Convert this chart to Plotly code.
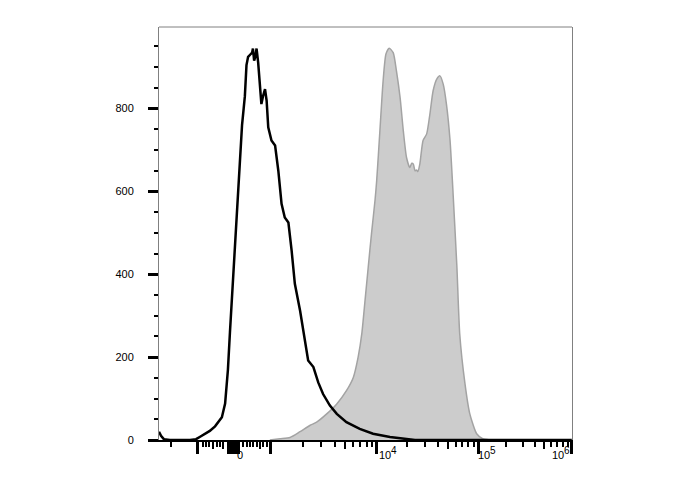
import math
import plotly.graph_objects as go

# ---------------- data (display channel scale 0..1024) ----------------
iso_ch = [0, 5, 12, 27, 77, 92, 102, 114, 126, 139, 149, 156, 164, 171, 176, 181, 188,
          193, 198, 202, 206, 210, 213, 217, 221, 226, 231, 233, 236, 239, 242, 246,
          250, 254, 258, 263, 267, 271, 279, 288, 296, 304, 312, 321, 329, 337, 350,
          362, 370, 383, 395, 407, 424, 441, 465, 498, 531, 573, 605, 635, 1024]
iso_cnt = [20, 10, 2, 0, 0, 2, 8, 14, 22, 33, 45, 55, 88, 170, 260, 340, 470,
           540, 640, 690, 760, 800, 830, 905, 925, 930, 935, 945, 916, 925, 945, 911,
           867, 811, 830, 847, 819, 755, 723, 711, 650, 570, 537, 525, 457, 377, 312,
           240, 192, 176, 139, 111, 83, 63, 43, 27, 15, 7, 3, 0, 0]

stain_ch = [275, 300, 325, 350, 374, 391, 416, 441, 465, 482, 494, 503, 511, 519, 527,
            536, 540, 548, 556, 563, 571, 581, 589, 598, 606, 614, 622, 627, 631, 635,
            639, 642, 647, 655, 664, 672, 680, 689, 697, 705, 713, 722, 730, 739, 746,
            759, 771, 788, 803, 821]
stain_cnt = [0, 3, 6, 20, 35, 43, 63, 87, 119, 151, 200, 256, 336, 417, 497,
             580, 626, 747, 868, 932, 946, 935, 891, 827, 747, 682, 658, 668, 666, 650,
             652, 648, 666, 723, 739, 787, 843, 871, 879, 859, 811, 723, 586, 417, 256,
             136, 63, 15, 3, 0]

# axis tick positions (channels)
decade_pos = {3: 276.9, 4: 540.5, 5: 791.7, 6: 1024.0}
neg_major = [96.7]
zero_block = [173.6, 178.5, 183.5, 188.4, 193.4, 198.4]
zero_pos = 186.0
lin_minor = [29.0, 108.4, 116.5, 124.7, 143.1, 151.3, 209.0, 217.4, 225.6, 233.8,
             242.2, 258.6, 267.0]
lin_medium = [134.6, 159.5, 250.4]

x_base = ["0", "10", "10", "10"]
x_exp = ["", "4", "5", "6"]
y_major = [0, 200, 400, 600, 800]
y_minor = [v for v in range(0, 1000, 50) if v % 200 != 0]

# ---------------- derived ticks ----------------
major_vals = neg_major + zero_block + [decade_pos[k] for k in (3, 4, 5, 6)]
minor_vals = list(lin_minor)
medium_vals = list(lin_medium)
for k in (3, 4, 5):
    a, b = decade_pos[k], decade_pos[k + 1]
    for m in range(2, 10):
        p = a + math.log10(m) * (b - a)
        (medium_vals if m == 5 else minor_vals).append(p)

fig = go.Figure()
fig.add_trace(go.Scatter(x=stain_ch, y=stain_cnt, mode="lines", fill="tozeroy",
                         line=dict(color="#a3a3a3", width=1.5, shape="spline", smoothing=0.6),
                         fillcolor="#cccccc", hoverinfo="skip", showlegend=False))
fig.add_trace(go.Scatter(x=iso_ch, y=iso_cnt, mode="lines",
                         line=dict(color="#000000", width=2.5),
                         hoverinfo="skip", showlegend=False))
fig.add_trace(go.Scatter(x=[0], y=[0], xaxis="x2", mode="markers",
                         marker=dict(opacity=0), hoverinfo="skip", showlegend=False))

XR = [0, 1024.5]
fig.update_layout(
    width=680, height=482,
    margin=dict(l=151, r=116, t=19, b=50),
    paper_bgcolor="white", plot_bgcolor="white",
    font=dict(family="Liberation Sans, Arial, sans-serif", size=11, color="black"),
    xaxis=dict(range=XR, showgrid=False, zeroline=False,
               showline=True, linecolor="black", linewidth=2,
               tickmode="array", tickvals=major_vals, ticks="outside",
               ticklen=12, tickwidth=2.5, tickcolor="black", showticklabels=False,
               minor=dict(tickmode="array", tickvals=minor_vals, ticks="outside",
                          ticklen=5, tickwidth=2, tickcolor="black", showgrid=False)),
    xaxis2=dict(range=XR, overlaying="x", anchor="y", side="bottom",
                showgrid=False, zeroline=False, showline=False,
                tickmode="array", tickvals=medium_vals, ticks="outside",
                ticklen=8, tickwidth=2, tickcolor="black", showticklabels=False),
    yaxis=dict(range=[0, 997], showgrid=False, zeroline=False,
               showline=True, linecolor="#808080", linewidth=1, mirror=True,
               tickmode="array", tickvals=y_major, ticktext=[str(v) for v in y_major],
               ticks="outside", ticklen=10, tickwidth=2.5, tickcolor="black",
               ticklabelstandoff=12,
               minor=dict(tickmode="array", tickvals=y_minor, ticks="outside",
                          ticklen=4, tickwidth=2, tickcolor="black", showgrid=False)),
    shapes=[dict(type="line", xref="paper", yref="paper", x0=0, x1=1, y0=1, y1=1,
                 line=dict(color="#808080", width=1))],
)

# x tick labels (base number + raised exponent), left-aligned on their ticks
label_pos = [zero_pos, decade_pos[4], decade_pos[5], decade_pos[6]]
base_shift = [1, 0, -2, -22]
for base, ex, xp, sh in zip(x_base, x_exp, label_pos, base_shift):
    fig.add_annotation(x=xp, y=0, xref="x", yref="paper", text=base, showarrow=False,
                       xanchor="left", yanchor="middle", xshift=sh, yshift=-15,
                       font=dict(size=11, color="black"))
    if ex:
        fig.add_annotation(x=xp, y=0, xref="x", yref="paper", text=ex, showarrow=False,
                           xanchor="left", yanchor="middle", xshift=sh + 12, yshift=-10,
                           font=dict(size=10, color="black"))

fig.write_html("out.html")
